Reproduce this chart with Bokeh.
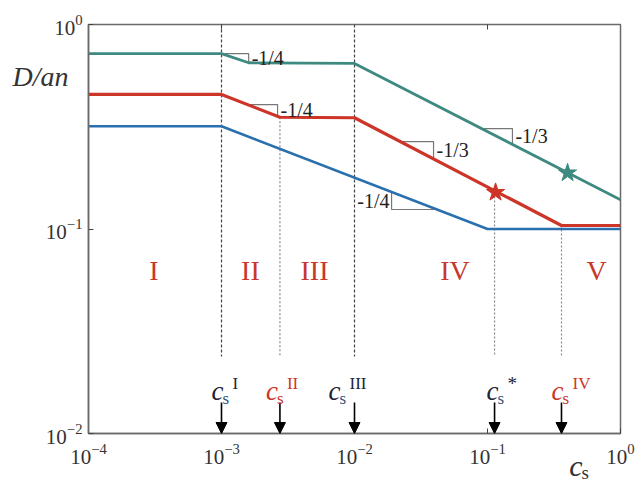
import numpy as np
from bokeh.plotting import figure
from bokeh.models import Label, Arrow, NormalHead, FixedTicker, LogAxis, CustomJSTickFormatter, LogTickFormatter
from bokeh.embed import file_html
from bokeh.resources import INLINE

# ---------------- data ----------------
green_x = [1e-4, 1e-3, 1.6e-3, 1e-2, 1e0]
green_y = [0.72, 0.72, 0.65, 0.645, 0.139]
red_x = [1e-4, 1e-3, 2.75e-3, 1e-2, 0.36, 1e0]
red_y = [0.455, 0.455, 0.352, 0.35, 0.104, 0.104]
blue_x = [1e-4, 1e-3, 1e-1, 1e0]
blue_y = [0.318, 0.318, 0.1, 0.1]

star_x = [0.40, 0.115]
star_y = [0.188, 0.151]

crit_x = [1e-3, 2.75e-3, 1e-2, 0.113, 0.36]
crit_sup = ["I", "II", "III", "*", "IV"]

regions = ["I", "II", "III", "IV", "V"]
region_x = [3.1e-4, 1.65e-3, 5.0e-3, 5.7e-2, 0.66]
region_y = [0.063, 0.063, 0.063, 0.063, 0.063]

x_ticks = [1e-4, 1e-3, 1e-2, 1e-1, 1e0]
y_ticks = [1e-2, 1e-1, 1e0]

slope_series = ["green", "red", "red", "green", "blue"]
slope_x1 = [1.0e-3, 1.57e-3, 0.0221, 0.0902, 0.0190]
slope_x2 = [1.6e-3, 2.64e-3, 0.0393, 0.154, 0.0417]
slope_text = ["-1/4", "-1/4", "-1/3", "-1/3", "-1/4"]

# ---------------- style ----------------
TEAL = "#3e8a80"
RED = "#cc3527"
BLUE = "#2a6fae"
DARK = "#1e2235"
FONT = "Liberation Serif"
crit_color = [DARK, RED, DARK, DARK, RED]
crit_dx = [2, -2, -14, 4, 2]
crit_dash = [("#444444", "3 2"), ("#8a8a8a", "2 2"), ("#444444", "3 2"),
             ("#8a8a8a", "2 2"), ("#8a8a8a", "2 2")]

series = {"green": (green_x, green_y), "red": (red_x, red_y), "blue": (blue_x, blue_y)}


def f(name, x):
    xs, ys = series[name]
    return 10 ** np.interp(np.log10(x), np.log10(xs), np.log10(ys))


PX_PER_DEC_Y = 409 / 2.0


def y_from_px_above_bottom(px):
    return 10 ** (-2 + px / PX_PER_DEC_Y)


p = figure(frame_width=532, frame_height=409,
           x_axis_type="log", y_axis_type="log",
           x_range=(1e-4, 1e0), y_range=(1e-2, 1e0),
           output_backend="svg", toolbar_location=None,
           min_border_left=88, min_border_right=18,
           min_border_top=24, min_border_bottom=49)
p.xgrid.visible = False
p.ygrid.visible = False
p.outline_line_color = "#6a6a6a"
p.outline_line_width = 1.5
p.background_fill_color = "white"
p.border_fill_color = "white"

for ax, ticks in ((p.xaxis, x_ticks), (p.yaxis, y_ticks)):
    ax.ticker = FixedTicker(ticks=ticks, minor_ticks=[])
    ax.formatter = LogTickFormatter()
    ax.major_tick_in = 5
    ax.major_tick_out = 0
    ax.minor_tick_line_color = None
    ax.axis_line_color = "#6a6a6a"
    ax.axis_line_width = 1.5
    ax.major_tick_line_color = "#444444"
    ax.major_label_text_font = FONT
    ax.major_label_text_font_size = "21px"
    ax.major_label_text_color = "#333333"
p.xaxis.major_label_standoff = 10
p.yaxis.major_label_standoff = 6

top = LogAxis(ticker=FixedTicker(ticks=[1e-3, 1e-1], minor_ticks=[]),
              formatter=CustomJSTickFormatter(code="return ''"),
              major_tick_in=5, major_tick_out=0, minor_tick_line_color=None,
              axis_line_color=None, major_label_standoff=0,
              major_tick_line_color="#444444")
p.add_layout(top, "above")

# vertical dashed guide lines
for i, (cx, col_dash) in enumerate(zip(crit_x, crit_dash)):
    if i in (0, 2):
        ytop = 1.0
    elif i == 3:
        ytop = star_y[1]
    else:
        ytop = f("red", cx)
    ybot = y_from_px_above_bottom(77)
    p.segment(x0=[cx], y0=[ytop], x1=[cx], y1=[ybot], line_color=col_dash[0],
              line_dash=col_dash[1], line_width=1.2)

# slope triangles
for s, x1, x2, t in zip(slope_series, slope_x1, slope_x2, slope_text):
    y1 = float(f(s, x1))
    y2 = float(f(s, x2))
    if s != "blue":
        p.line([x1, x2, x2], [y1, y1, y2], line_color="#777777", line_width=1.2)
        p.add_layout(Label(x=x2, y=np.sqrt(y1 * y2), text=t, x_offset=3,
                           text_align="left", text_baseline="middle",
                           text_font=FONT, text_font_size="20px", text_color="#222222"))
    else:
        p.line([x1, x1, x2], [y1, y2, y2], line_color="#777777", line_width=1.2)
        p.add_layout(Label(x=x1, y=np.sqrt(y1 * y2), text=t, x_offset=-2,
                           text_align="right", text_baseline="middle",
                           text_font=FONT, text_font_size="20px", text_color="#222222"))

# curves
p.line(blue_x, blue_y, line_color=BLUE, line_width=2.6)
p.line(red_x, red_y, line_color=RED, line_width=3.2)
p.line(green_x, green_y, line_color=TEAL, line_width=2.8)
p.scatter(star_x, star_y, marker="star", size=19, fill_color=[TEAL, RED],
          line_color=[TEAL, RED])

# region labels
for r, rx, ry in zip(regions, region_x, region_y):
    p.add_layout(Label(x=rx, y=ry, text=r, text_align="center", text_baseline="middle",
                       text_font=FONT, text_font_size="28px", text_color="#c8372b"))

# arrows and c_s labels
for cx, sup, col, dx in zip(crit_x, crit_sup, crit_color, crit_dx):
    p.add_layout(Arrow(end=NormalHead(size=11, fill_color="black", line_color="black"),
                       x_start=cx, y_start=y_from_px_above_bottom(31),
                       x_end=cx, y_end=1e-2, line_color="black", line_width=1.6))
    p.add_layout(Label(x=cx, y=1e-2, text="c", x_offset=dx, y_offset=43,
                       text_align="right", text_baseline="alphabetic",
                       text_font=FONT, text_font_style="italic",
                       text_font_size="27px", text_color=col))
    p.add_layout(Label(x=cx, y=1e-2, text="s", x_offset=dx - 1, y_offset=35,
                       text_align="left", text_baseline="alphabetic",
                       text_font=FONT, text_font_size="17px",
                       text_color=(col if col == RED else "#2f5277")))
    p.add_layout(Label(x=cx, y=1e-2, text=sup, x_offset=dx + 9, y_offset=50,
                       text_align="left", text_baseline="alphabetic",
                       text_font=FONT, text_font_size=("19px" if sup == "*" else "17px"),
                       text_color=col))

# axis titles (placed in the bottom side panel so the frame does not clip them;
# their positions are still given relative to the plot frame)
p.add_layout(Label(x=1e-4, y=1e0, text="D/an", x_offset=-76, y_offset=-52,
                   text_align="left", text_baseline="alphabetic",
                   text_font=FONT, text_font_style="italic", text_font_size="28px",
                   text_color="#333333"), "below")
p.add_layout(Label(x=1e0, y=1e-2, text="c", x_offset=-38, y_offset=-32,
                   text_align="right", text_baseline="alphabetic",
                   text_font=FONT, text_font_style="italic", text_font_size="30px",
                   text_color="#333333"), "below")
p.add_layout(Label(x=1e0, y=1e-2, text="s", x_offset=-39, y_offset=-39,
                   text_align="left", text_baseline="alphabetic",
                   text_font=FONT, text_font_size="19px", text_color="#333333"), "below")

open("out.html", "w").write(file_html(p, INLINE))
